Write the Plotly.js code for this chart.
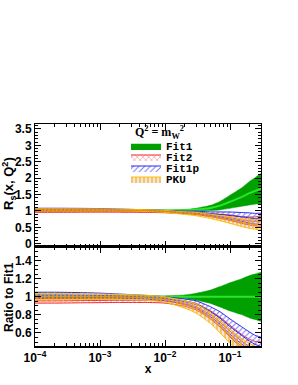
<!DOCTYPE html>
<html><head><meta charset="utf-8">
<script src="https://cdn.plot.ly/plotly-3.0.1.min.js"></script>
<style>html,body{margin:0;padding:0;background:#fff}#c{width:298px;height:385px}</style>
</head><body><div id="c"></div>
<script>
// x grid
const xs = [1e-4, 2e-4, 5e-4, 1e-3, 2e-3, 5e-3, 0.01, 0.02, 0.03, 0.05, 0.07, 0.1, 0.15, 0.2, 0.25, 0.3];
// Fit1: R_s central and absolute uncertainty
const fit1 = [1.03,1.03,1.03,1.03,1.025,1.02,1.015,1.02,1.04,1.09,1.16,1.28,1.42,1.54,1.62,1.68];
const fit1Err = [0.02,0.02,0.018,0.015,0.012,0.01,0.01,0.02,0.04,0.08,0.13,0.2,0.28,0.36,0.41,0.45];
// other fits: ratio to Fit1 central and ratio uncertainty
const fit2Ratio = [0.955,0.955,0.958,0.96,0.962,0.962,0.955,0.925,0.89,0.8,0.72,0.62,0.51,0.45,0.42,0.41];
const fit2Err = [0.025,0.025,0.025,0.025,0.025,0.025,0.025,0.03,0.035,0.045,0.055,0.065,0.075,0.08,0.085,0.09];
const fit1pRatio = [1.02,1.02,1.018,1.015,1.008,0.995,0.978,0.945,0.915,0.835,0.765,0.67,0.575,0.51,0.47,0.45];
const fit1pErr = [0.03,0.03,0.028,0.025,0.022,0.02,0.022,0.03,0.04,0.055,0.07,0.085,0.095,0.1,0.1,0.1];
const pkuRatio = [1.0,1.0,1.0,1.0,0.998,0.99,0.97,0.915,0.87,0.765,0.675,0.565,0.455,0.395,0.36,0.34];
const pkuErr = [0.035,0.035,0.033,0.03,0.028,0.027,0.03,0.04,0.05,0.06,0.07,0.08,0.085,0.09,0.09,0.09];
const seriesNames = ['Fit1','Fit2','Fit1p','PKU'];
const xTickVals = [1e-4,1e-3,1e-2,1e-1];
const xTickText = ['10<sup>−4</sup>','10<sup>−3</sup>','10<sup>−2</sup>','10<sup>−1</sup>'];

const styles = {
  Fit1: {fill:'rgb(0,160,0)', line:'rgb(0,160,0)', center:'rgb(40,230,40)', cw:2, pattern:null, lg:'legend'},
  Fit2: {fill:'rgba(0,0,0,0)', line:'rgb(235,40,40)', center:'rgb(235,40,40)', cw:1, pattern:{shape:'x', fgcolor:'rgb(250,130,130)', bgcolor:'rgba(255,255,255,0)', size:4, solidity:0.25}, lg:'legend2'},
  Fit1p:{fill:'rgba(0,0,0,0)', line:'rgb(40,40,240)', center:'rgb(40,40,240)', cw:1, pattern:{shape:'/', fgcolor:'rgb(120,120,250)', bgcolor:'rgba(255,255,255,0)', size:4, solidity:0.25}, lg:'legend3'},
  PKU:  {fill:'rgba(0,0,0,0)', line:'rgb(250,190,0)', center:'rgb(240,140,0)', cw:1, pattern:{shape:'|', fgcolor:'rgb(245,170,40)', bgcolor:'rgba(225,175,140,0.3)', size:4, solidity:0.3}, lg:'legend4'}
};

const r1 = fit1.map(()=>1);
const r1Err = fit1Err.map((e,i)=>e/fit1[i]);
const data = {
  Fit1: {ratio:r1, rerr:r1Err},
  Fit2: {ratio:fit2Ratio, rerr:fit2Err},
  Fit1p:{ratio:fit1pRatio, rerr:fit1pErr},
  PKU:  {ratio:pkuRatio, rerr:pkuErr}
};

const traces = [];
seriesNames.forEach(name=>{
  const s = styles[name], d = data[name];
  const topC = d.ratio.map((r,i)=>r*fit1[i]);
  const topE = d.rerr.map((e,i)=>e*fit1[i]);
  const panels = [
    {c:topC, e:topE, xa:'x2', ya:'y', leg:true},
    {c:d.ratio, e:d.rerr, xa:'x', ya:'y2', leg:false}
  ];
  panels.forEach(p=>{
    const up = p.c.map((v,i)=>v+p.e[i]);
    const lo = p.c.map((v,i)=>v-p.e[i]);
    const band = {
      x: xs.concat(xs.slice().reverse()),
      y: up.concat(lo.slice().reverse()),
      xaxis:p.xa, yaxis:p.ya, type:'scatter', mode:'lines',
      fill:'toself', fillcolor:s.fill,
      line:{color:s.line, width: name==='Fit1'?0.5:1, shape:'spline', smoothing:0.6},
      name:name, showlegend:p.leg, legend:s.lg, hoverinfo:'skip'
    };
    if (s.pattern) band.fillpattern = s.pattern;
    traces.push(band);
    traces.push({x:xs, y:p.c, xaxis:p.xa, yaxis:p.ya, type:'scatter', mode:'lines',
      line:{color:s.center, width:s.cw, shape:'spline', smoothing:0.6}, showlegend:false, hoverinfo:'skip'});
  });
});

const tickFont = {family:'Liberation Sans, Arial', size:12, color:'#000', weight:'bold'};
const legFont = {family:'Liberation Mono, Courier New, monospace', size:11, color:'#000', weight:'bold'};
const axBase = {showgrid:false, zeroline:false, showline:true, linecolor:'#000', linewidth:1,
  ticks:'inside', mirror:'ticks', tickcolor:'#000', ticklen:6, tickfont:tickFont};
const legBase = {bgcolor:'rgba(0,0,0,0)', font:legFont, itemwidth:30, xanchor:'left', yanchor:'middle', tracegroupgap:0};
const splitY = 0.446;
const legY = [146,157,168,179].map(py=>(346-py)/222);
const legX = (126-35)/226;
const titleFont = {family:'Liberation Sans, Arial', size:12, color:'#000', weight:'bold'};
const layout = {
  width:298, height:385, margin:{l:35, r:37, t:124, b:39},
  paper_bgcolor:'#fff', plot_bgcolor:'#fff', showlegend:true,
  xaxis: Object.assign({}, axBase, {type:'log', range:[-4,-0.523], anchor:'y2', domain:[0,1],
    tickvals:xTickVals, ticktext:xTickText, linewidth:1.5,
    minor:{ticks:'inside', ticklen:3, tickcolor:'#000', dtick:'D1'},
    title:{text:'x', font:titleFont, standoff:0}}),
  xaxis2: Object.assign({}, axBase, {type:'log', range:[-4,-0.523], anchor:'y', matches:'x', showticklabels:false,
    tickvals:xTickVals, minor:{ticks:'inside', ticklen:3, tickcolor:'#000', dtick:'D1'}}),
  yaxis: Object.assign({}, axBase, {domain:[splitY,1], range:[-0.1,3.65], anchor:'x2',
    tickvals:[0,0.5,1,1.5,2,2.5,3,3.5], ticktext:['0','0.5','1','1.5','2','2.5','3','3.5'],
    minor:{ticks:'inside', ticklen:3, tickcolor:'#000', dtick:0.1}}),
  yaxis2: Object.assign({}, axBase, {domain:[0,splitY], range:[0.456,1.55], anchor:'x',
    tickvals:[0.6,0.8,1,1.2,1.4], ticktext:['0.6','0.8','1','1.2','1.4'],
    minor:{ticks:'inside', ticklen:3, tickcolor:'#000', dtick:0.05}}),
  legend: Object.assign({}, legBase, {x:legX, y:legY[0]}),
  legend2: Object.assign({}, legBase, {x:legX, y:legY[1]}),
  legend3: Object.assign({}, legBase, {x:legX, y:legY[2]}),
  legend4: Object.assign({}, legBase, {x:legX, y:legY[3]}),
  annotations:[
    {text:'Q<sup>2</sup>&nbsp;=&nbsp;m<sub>W</sub><sup>2</sup>', xref:'paper', yref:'paper', x:(186-35)/226, y:(346-132)/222,
     yanchor:'middle', showarrow:false, font:{family:'Liberation Serif, Times New Roman, serif', size:12, color:'#000', weight:'bold'}},
    {text:'R<sub>s</sub>(x, Q<sup>2</sup>)', xref:'paper', yref:'paper', x:(9-35)/226, y:(346-184)/222,
     xanchor:'center', yanchor:'middle', textangle:-90, showarrow:false, font:Object.assign({}, titleFont, {size:13})},
    {text:'Ratio to Fit1', xref:'paper', yref:'paper', x:(9-35)/226, y:(346-297)/222,
     xanchor:'center', yanchor:'middle', textangle:-90, showarrow:false, font:titleFont}
  ]
};
Plotly.newPlot('c', traces, layout, {displayModeBar:false, staticPlot:true});
</script>
</body></html>
